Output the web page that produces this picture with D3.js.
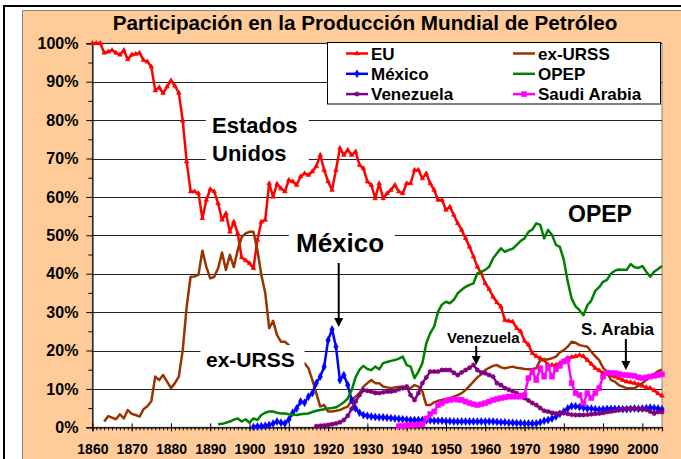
<!DOCTYPE html>
<html><head><meta charset="utf-8">
<script src="https://cdn.jsdelivr.net/npm/d3@7"></script>
<style>
body{margin:0;background:#fff;}
svg{display:block;font-family:"Liberation Sans",Arial,sans-serif;font-weight:bold;}
</style>
</head><body>
<svg id="c" width="681" height="459"></svg>
<script>
// ---------- DATA ----------
const yTickLabels = ["0%","10%","20%","30%","40%","50%","60%","70%","80%","90%","100%"];
const xTickLabels = ["1860","1870","1880","1890","1900","1910","1920","1930","1940","1950","1960","1970","1980","1990","2000"];

const euStart = 1860;
const euValues = [
 100,100,100,97.5,97.8,98.2,97.5,97,98.2,95.8,
 97,97.2,97.5,95.6,95.2,93.9,87.7,88.5,87,88.7,
 90.3,88.9,87.1,79.8,69.2,61.4,61.4,60.9,54.4,59.2,
 62,61.4,58.3,54,55.7,50.9,53.5,50.5,44.2,43.5,
 42.7,41.4,48.8,53.5,54,63.5,60,63.4,62.2,61.4,
 64.4,64,63.1,65.3,66.1,65.7,66.6,68,70.9,67,
 64,61.8,67,72.7,70.9,72.2,70.9,71.8,68.3,67.4,
 64,63.1,59.6,63.5,59.6,60.9,61.8,63.1,61.4,60.9,
 63.5,63.5,67,67,64.8,66.1,63.5,61.8,59.2,59.2,
 56.6,57.4,55.3,53.1,51.4,49.2,47,44.5,41.8,40.1,
 37.5,36,34,32.5,31.4,27.9,27.7,27.5,25.8,25,
 22.5,21.5,19.3,18.5,18,17.5,16.2,16.2,16.2,16.7,
 17.3,18,18.3,18.5,18.8,18.5,17.5,16.5,15.4,14.8,
 14.1,13.8,13.5,13.2,12.8,12.3,11.9,11.7,11.5,11.2,
 10.8,10.4,10.2,9.6,8.8,8.2];

const ussrStart = 1863;
const ussrValues = [
 1.5,2.9,2.5,2.1,3.4,2.3,4.5,
 3.5,3.2,2.8,4.7,5.5,6.8,13.2,12.3,13.6,11.9,
 10.2,11.5,13.2,20.1,31.4,39.2,39.3,39.7,46,41.8,
 38.8,39.2,41.4,45.5,41,44.9,41.7,46.2,49.5,50.5,
 50.9,50.9,46.2,39.7,35,25.8,27.7,24,22.3,22.3,
 21.4,20,18.5,17,16.7,15.4,12.3,8.9,5.4,5.8,
 4.1,4.1,4.3,4.5,5,5.4,7.1,8,8.9,10.6,
 11.5,12.3,11.5,11.5,10.6,10.4,10.2,10.4,10.5,10.6,
 10.4,10.2,11,10.6,9.3,5.8,5.8,6.5,6.9,7.1,
 7.4,7.6,8,8.4,8.9,9.7,10.8,11.9,13,13.8,
 14.9,15.5,16,16.2,15.6,15.4,15.6,15.8,15.5,15.4,
 15.2,15.1,15.2,15.4,17.5,17.6,17.7,18,18.4,19.5,
 20.1,21,22.3,22,21.4,21.2,21,19.7,18.5,17.5,
 15.5,14.5,12.3,11.9,11,10.6,10.2,10.2,10.2,10.8,
 11.5,12.3,13.3,13.9,14.6,15];

const mexStart = 1901;
const mexValues = [
 0.1,0.2,0.3,0.4,0.6,1,1.5,1.2,1,
 2,3.8,4.9,6.7,6.4,8,8.9,11.5,13.2,15.8,
 22.7,25.5,21,12.3,13.6,11,7.1,4.9,3.8,3.2,
 3,2.8,2.7,2.6,2.6,2.5,2.4,2.3,2.2,2.1,
 2,1.9,1.9,1.9,1.9,1.8,1.8,1.7,1.7,1.7,
 1.6,1.6,1.5,1.5,1.5,1.5,1.5,1.5,1.5,1.5,
 1.5,1.5,1.5,1.4,1.3,1.3,1.2,1.2,1.1,1.1,
 1,1,1,1,1.3,1.7,1.9,2.3,2.8,3.5,
 4.1,4.9,5.5,5.5,5.3,5.1,4.9,4.9,4.7,4.6,
 4.7,4.8,4.8,4.8,4.8,4.7,4.7,4.8,4.9,4.8,
 4.9,5,5.1,5,4.9,4.7];

const opecStart = 1892;
const opecValues = [
 0.8,0.9,1.2,1.5,2,2.3,1.5,2.1,
 1.2,2.3,1.9,3.2,3.8,4.1,4.1,3.8,3.6,3.6,
 3.4,3.3,3.2,3.4,3.5,3.6,4,4.3,4.5,4.7,
 4.9,5,5.2,5.8,6.5,7.5,9.7,13,15,16,
 15.2,14.9,15.8,15.1,16.7,17,17.3,17.5,17.9,18.4,
 16.2,15.8,12.8,14.5,16.7,21.9,24.5,26.2,30.1,32,
 32.7,32.3,33.2,34.9,35.8,36.6,37.1,37.5,40.1,40.5,
 41,41.8,44,45.3,46.6,45.7,46.2,46.5,47.5,48.5,
 49.2,50.9,51.5,53.1,52.7,49.2,51.4,50.1,47.5,47,
 43.6,38,33.5,31.5,30.5,29.2,31.8,33,35.5,36.5,
 37.9,38.4,40,40.8,41.1,41,41,42.5,41.7,41.5,
 42,40.5,39.2,40.5,41.2,42];

const venStart = 1917;
const venValues = [
 0.3,0.4,0.5,
 0.6,0.8,1,1.3,1.9,3,4.8,6.7,8.4,9.7,
 9.5,9.3,9,8.9,9.1,9.3,9.3,9.5,9.9,10.2,
 10.6,8.4,7.1,8.9,11.5,13,14.5,14.5,14.5,14.9,
 14.9,14.9,14.2,13.6,14.3,14.9,15.5,16.2,14.9,14.3,
 14.1,13.6,13.2,11.5,11,10.2,9.8,9.4,8.9,8.3,
 7.6,7,6.3,5.8,5,4.3,4.1,3.8,3.6,3.7,
 3.8,3.5,3.3,3.2,3.2,3.2,3.3,3.4,3.5,3.6,
 3.8,4,4.1,4.3,4.5,4.7,4.9,4.9,4.8,4.7,
 4.7,4.6,4.1,3.6,4,4];

const saudiStart = 1938;
const saudiValues = [
 0.3,0.3,
 0.5,0.6,0.6,0.7,0.8,2.3,3.5,4.1,5.8,6.3,
 6.9,7.1,7.3,7.2,7.1,6.7,6.3,6,5.8,6,
 6.3,6.7,7.1,7.4,7.6,7.8,8,8,8,8,
 8.4,12.8,14.5,12.3,15.4,13.2,15.8,13.2,15.1,16,
 17.1,17.7,11.5,8.9,8.4,6.3,8.9,7.6,8.9,10.2,
 13.2,14.2,14.1,14.1,13.9,13.7,13.6,13.5,13.4,13,
 12.8,13,13.2,13.4,13.6,13.8];

const seriesNames = ["EU","ex-URSS","México","OPEP","Venezuela","Saudi Arabia"];
const seriesColors = ["#FF0000","#993300","#0000FF","#008000","#800080","#FF00FF"];

// ---------- BUILD ----------
const toPts = (start, vals) => vals.map((v,i)=>({year:start+i, v}));
const series = [
  {name:seriesNames[0], color:seriesColors[0], pts:toPts(euStart,euValues), marker:"tri"},
  {name:seriesNames[1], color:seriesColors[1], pts:toPts(ussrStart,ussrValues), marker:null},
  {name:seriesNames[2], color:seriesColors[2], pts:toPts(mexStart,mexValues), marker:"dia"},
  {name:seriesNames[3], color:seriesColors[3], pts:toPts(opecStart,opecValues), marker:null},
  {name:seriesNames[4], color:seriesColors[4], pts:toPts(venStart,venValues), marker:"ast"},
  {name:seriesNames[5], color:seriesColors[5], pts:toPts(saudiStart,saudiValues), marker:"sq"}
];

const svg = d3.select("#c");
const L = 92.4, R = 662, T = 43.3, B = 427.3;
const x = d3.scaleLinear().domain([1860, 2005]).range([L, R]);
const y = d3.scaleLinear().domain([0, 100]).range([B, T]);

// frame
svg.append("path").attr("d","M4,470 L4,6 L700,6").attr("fill","none").attr("stroke","#000").attr("stroke-width",2);
svg.append("rect").attr("x",22.5).attr("y",10.5).attr("width",700).attr("height",500)
  .attr("fill","#FFCC99").attr("stroke","#888").attr("stroke-width",1);

// title
svg.append("text").attr("x",365).attr("y",30).attr("text-anchor","middle")
  .attr("font-size",20.7).attr("fill","#000").text("Participación en la Producción Mundial de Petróleo");

// plot area
svg.append("rect").attr("x",L).attr("y",T).attr("width",R-L).attr("height",B-T)
  .attr("fill","#fff").attr("stroke","#808080").attr("stroke-width",1);

// gridlines
const gridVals = d3.range(10, 101, 10);
svg.append("g").selectAll("line").data(gridVals).join("line")
  .attr("x1",L).attr("x2",R)
  .attr("y1",d=>Math.round(y(d))+0.5).attr("y2",d=>Math.round(y(d))+0.5)
  .attr("stroke","#222").attr("stroke-width",1);

// y axis
const yAxis = d3.axisLeft(y).tickValues(d3.range(0,101,10))
  .tickFormat((d,i)=>yTickLabels[i]).tickSize(6).tickPadding(8);
const gy = svg.append("g").attr("transform",`translate(${L},0)`).call(yAxis);
gy.select(".domain").attr("stroke","#000").attr("stroke-width",1.2);
gy.selectAll(".tick line").attr("stroke","#000");
gy.selectAll("text").attr("font-size",16).attr("font-family","Liberation Sans, Arial").attr("font-weight","bold").attr("fill","#000");
const yMinor = d3.axisLeft(y).tickValues(d3.range(5,100,10)).tickFormat("").tickSize(4);
const gym = svg.append("g").attr("transform",`translate(${L},0)`).call(yMinor);
gym.select(".domain").remove();
gym.selectAll(".tick line").attr("stroke","#000");

// x axis
const xMinor = d3.axisBottom(x).tickValues(d3.range(1860,2006,1)).tickFormat("").tickSize(3);
const gxm = svg.append("g").attr("transform",`translate(0,${B})`).call(xMinor);
gxm.select(".domain").remove();
gxm.selectAll(".tick line").attr("stroke","#000");
const xAxis = d3.axisBottom(x).tickValues(d3.range(1860,2001,10))
  .tickFormat((d,i)=>xTickLabels[i]).tickSize(4).tickPadding(13);
const gx = svg.append("g").attr("transform",`translate(0,${B})`).call(xAxis);
gx.select(".domain").attr("stroke","#000").attr("stroke-width",1.2);
gx.selectAll(".tick line").attr("stroke","#000").attr("y1",-4);
gx.selectAll("text").attr("font-size",14).attr("font-family","Liberation Sans, Arial").attr("font-weight","bold").attr("fill","#000");

// series
const line = d3.line().x(d=>x(d.year)).y(d=>y(d.v));
const markerPath = {
  tri: d3.symbol().type(d3.symbolTriangle).size(10)(),
  dia: d3.symbol().type(d3.symbolDiamond).size(18)(),
  sq: d3.symbol().type(d3.symbolSquare).size(26)(),
  ast: "M-2.5,0L2.5,0M0,-2.5L0,2.5M-1.8,-1.8L1.8,1.8M-1.8,1.8L1.8,-1.8"
};
const gS = svg.append("g");
series.forEach(s=>{
  const g = gS.append("g");
  g.append("path").attr("d",line(s.pts)).attr("fill","none").attr("stroke",s.color)
    .attr("stroke-width",2.5).attr("stroke-linejoin","round");
  if (s.marker) {
    g.selectAll("path.m").data(s.pts).join("path").attr("class","m")
      .attr("transform",d=>`translate(${x(d.year)},${y(d.v)})`)
      .attr("d",markerPath[s.marker])
      .attr("fill",s.marker==="ast"?"none":s.color)
      .attr("stroke",s.color).attr("stroke-width",s.marker==="ast"?1.2:0.5);
  }
});

// annotation boxes (white, hide gridlines)
const boxes = [
  {x0:1888.9, x1:1915.1, y0:82, y1:67.5},
  {x0:1910, x1:1937, y0:52.5, y1:44.5},
  {x0:1887.5, x1:1914, y0:21.4, y1:15}
];
svg.append("g").selectAll("rect").data(boxes).join("rect")
  .attr("x",d=>x(d.x0)).attr("y",d=>y(d.y0)).attr("width",d=>x(d.x1)-x(d.x0)).attr("height",d=>y(d.y1)-y(d.y0))
  .attr("fill","#fff");

const ann = svg.append("g").attr("fill","#000");
ann.append("text").attr("x",212).attr("y",133).attr("font-size",22).text("Estados");
ann.append("text").attr("x",212).attr("y",161).attr("font-size",22).text("Unidos");
ann.append("text").attr("x",296).attr("y",252).attr("font-size",26).text("México");
ann.append("text").attr("x",206).attr("y",367).attr("font-size",21).text("ex-URSS");
ann.append("text").attr("x",568).attr("y",222).attr("font-size",23).text("OPEP");
ann.append("text").attr("x",447).attr("y",343).attr("font-size",15).text("Venezuela");
ann.append("text").attr("x",581).attr("y",335).attr("font-size",17).text("S. Arabia");

function arrow(xp, ya, yb){
  ann.append("line").attr("x1",xp).attr("x2",xp).attr("y1",ya).attr("y2",yb-6)
    .attr("stroke","#000").attr("stroke-width",2);
  ann.append("path").attr("d",`M${xp-4.5},${yb-9}L${xp+4.5},${yb-9}L${xp},${yb}Z`).attr("fill","#000");
}
arrow(x(1922.7), 263, 327);
arrow(x(1957.7), 346, 365);
arrow(x(1995.8), 339, 370);

// legend
const lg = svg.append("g");
lg.append("rect").attr("x",327.5).attr("y",42.5).attr("width",333).attr("height",61.5)
  .attr("fill","#fff").attr("stroke","#000").attr("stroke-width",1);
series.forEach((s,i)=>{
  const col = i%2, row = Math.floor(i/2);
  const lx = col===0 ? 346 : 513;
  const ly = 53.5 + row*20.3;
  lg.append("line").attr("x1",lx).attr("x2",lx+22).attr("y1",ly).attr("y2",ly)
    .attr("stroke",s.color).attr("stroke-width",2.5);
  if (s.marker) {
    lg.append("path").attr("transform",`translate(${lx+11},${ly})`).attr("d",markerPath[s.marker])
      .attr("fill",s.marker==="ast"?"none":s.color).attr("stroke",s.color).attr("stroke-width",s.marker==="ast"?1.2:0.5);
  }
  lg.append("text").attr("x",lx+25).attr("y",ly+6).attr("font-size",17).attr("fill","#000").text(s.name);
});
</script>
</body></html>
